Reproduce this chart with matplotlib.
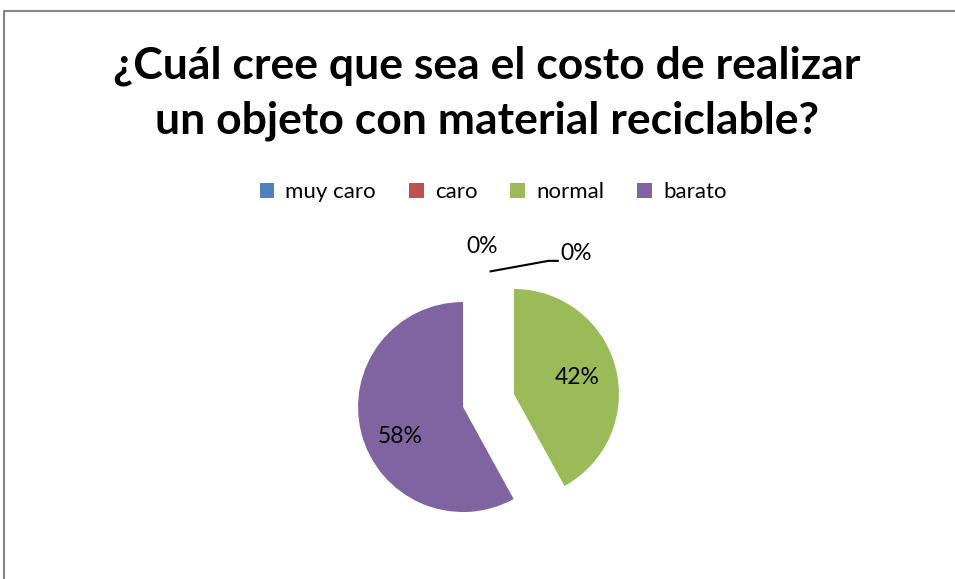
import matplotlib.pyplot as plt
from matplotlib.lines import Line2D

# Daten
categorias = ["muy caro", "caro", "normal", "barato"]
valores = [0, 0, 42, 58]
colores = ["#4F81BD", "#C0504D", "#9BBB59", "#8064A2"]
explode = [0, 0, 0.25, 0.25]
titulo = "¿Cuál cree que sea el costo de realizar\nun objeto con material reciclable?"

plt.rcParams["font.family"] = ["Lato", "DejaVu Sans"]

W, H = 955, 579
fig = plt.figure(figsize=(W / 100, H / 100), dpi=100)

# Pie: Mittelpunkt und Radius in Pixel
cx, cy, r = 488.5, 400.5, 105
ax = fig.add_axes([0, 0, 1, 1])
wedges, texts, autotexts = ax.pie(
    valores, colors=colores, explode=explode, startangle=90, counterclock=False,
    autopct=lambda p: f"{p:.0f}%" if p > 0 else "", pctdistance=0.62,
    textprops={"fontsize": 16.5, "color": "black"})
ax.set_xlim(-cx / r, (W - cx) / r)
ax.set_ylim(-(H - cy) / r, cy / r)
ax.axis("off")

# 58% etwas tiefer, wie im Original
px, py = autotexts[3].get_position()
autotexts[3].set_position((px, py - 0.13))

# 0%-Beschriftungen der leeren Segmente
ax.text(-0.06, 1.47, f"{valores[0]}%", ha="center", va="center", fontsize=16.5)
ax.text(0.83, 1.40, f"{valores[1]}%", ha="center", va="center", fontsize=16.5)
ax.plot([0.02, 0.57, 0.66], [1.23, 1.33, 1.33], color="black", lw=1.5)

# Titel
fig.text(487 / W, 1 - 93 / H, titulo, ha="center", va="center", fontsize=32,
         fontweight="bold", linespacing=1.45)

# Legende
fig.legend(wedges, categorias, loc="center", bbox_to_anchor=(493 / W, 1 - 192 / H),
           ncol=4, frameon=False, fontsize=16, handlelength=0.65, handleheight=0.65,
           handletextpad=0.5, columnspacing=1.5)

# Rahmen (nur links und oben sichtbar)
fig.add_artist(Line2D([4 / W, 4 / W, 1], [0, 1 - 11 / H, 1 - 11 / H],
                      transform=fig.transFigure, color="#868686", lw=1.5))

fig.savefig("out.png", dpi=100)
